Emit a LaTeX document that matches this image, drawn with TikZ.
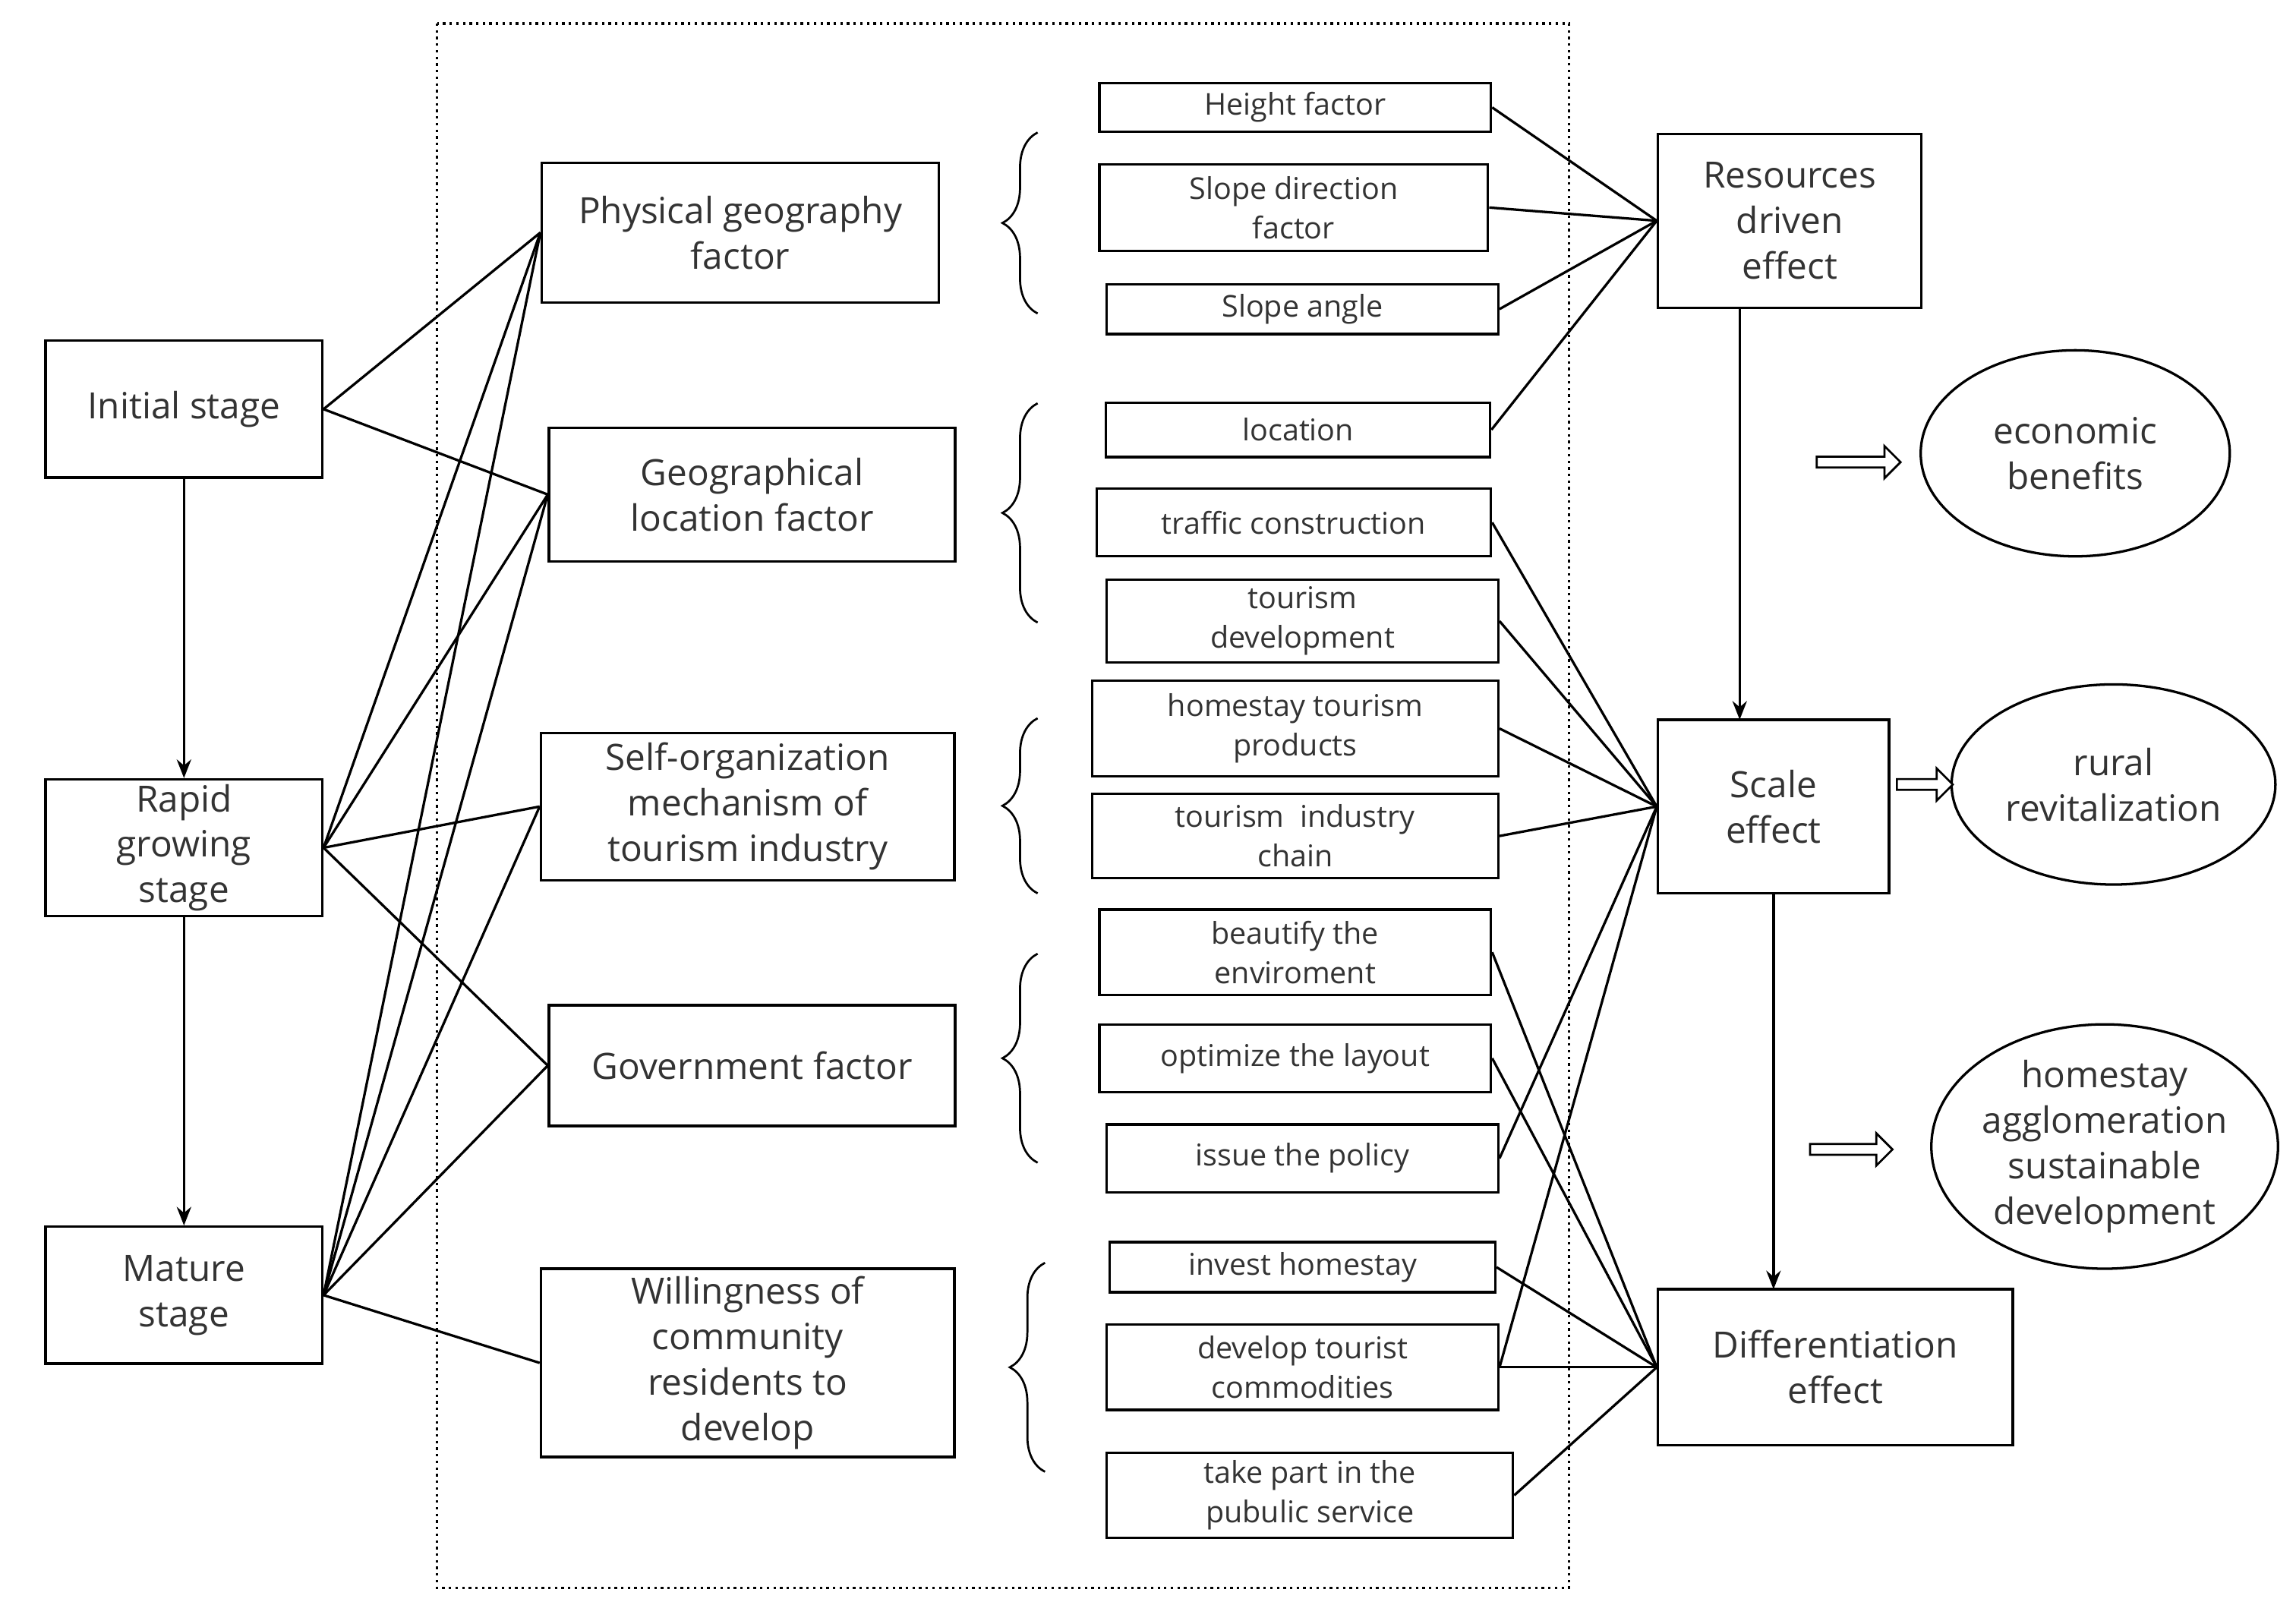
\documentclass[tikz,border=0pt]{standalone}
\usepackage{fontspec}
\setmainfont{Open Sans}
\usetikzlibrary{decorations.pathreplacing,shapes.geometric,arrows.meta}
\begin{document}
\begin{tikzpicture}[x=0.025cm,y=-0.025cm,
 big/.style={draw,line width=1.2pt,align=center,inner sep=0pt,font=\fontsize{17.5}{22}\selectfont,text=black!80},
 sm/.style={draw,line width=1.2pt,align=center,inner sep=0pt,font=\fontsize{14.5}{19}\selectfont,text=black!80},
 ell/.style={draw,ellipse,line width=1.2pt,align=center,inner sep=0pt,font=\fontsize{17.5}{22}\selectfont,text=black!80},
 ln/.style={line width=1.2pt},
 arr/.style={line width=1.2pt,-{Stealth[length=9pt,width=7pt]}},
 br/.style={line width=1pt,decorate,decoration={brace,amplitude=17pt}},
 hol/.style={draw,line width=1pt,single arrow,fill=white,minimum height=1.4cm,single arrow head extend=3pt,minimum width=0.55cm,inner sep=1pt}]
\useasboundingbox (0,0) rectangle (1560,1088);
\usetikzlibrary{shapes.arrows}
\draw[line width=1.2pt,dotted] (297,16) rectangle (1066,1079);
\node[big,minimum width=188*0.025cm,minimum height=93*0.025cm] (ini) at (125,278) {Initial stage};
\node[big,minimum width=188*0.025cm,minimum height=93*0.025cm] (rap) at (125,576) {Rapid\\growing\\stage};
\node[big,minimum width=188*0.025cm,minimum height=93*0.025cm] (mat) at (125,880) {Mature\\stage};
\node[big,minimum width=270*0.025cm,minimum height=95*0.025cm] (phy) at (503,158) {Physical geography\\factor};
\node[big,minimum width=276*0.025cm,minimum height=91*0.025cm] (geo) at (511,336) {Geographical\\location factor};
\node[big,minimum width=281*0.025cm,minimum height=100*0.025cm] (sel) at (508,548) {Self-organization\\mechanism of\\tourism industry};
\node[big,minimum width=276*0.025cm,minimum height=82*0.025cm] (gov) at (511,724) {Government factor};
\node[big,minimum width=281*0.025cm,minimum height=128*0.025cm] (wil) at (508,926) {Willingness of\\community\\residents to\\develop};
\node[sm,minimum width=266*0.025cm,minimum height=33*0.025cm] (h1) at (880,73) {Height factor};
\node[sm,minimum width=264*0.025cm,minimum height=59*0.025cm] (h2) at (879,141) {Slope direction\\factor};
\node[sm,minimum width=266*0.025cm,minimum height=34*0.025cm] (h3) at (885,210) {Slope angle};
\node[sm,minimum width=261*0.025cm,minimum height=37*0.025cm] (g1) at (882,292) {location};
\node[sm,minimum width=268*0.025cm,minimum height=46*0.025cm] (g2) at (879,355) {traffic construction};
\node[sm,minimum width=266*0.025cm,minimum height=56*0.025cm] (g3) at (885,422) {tourism\\development};
\node[sm,minimum width=276*0.025cm,minimum height=65*0.025cm] (s1) at (880,495) {homestay tourism\\products};
\node[sm,minimum width=276*0.025cm,minimum height=57*0.025cm] (s2) at (880,568) {tourism\ \ industry\\chain};
\node[sm,minimum width=266*0.025cm,minimum height=58*0.025cm] (v1) at (880,647) {beautify the\\enviroment};
\node[sm,minimum width=266*0.025cm,minimum height=46*0.025cm] (v2) at (880,719) {optimize the layout};
\node[sm,minimum width=266*0.025cm,minimum height=46*0.025cm] (v3) at (885,787) {issue the policy};
\node[sm,minimum width=262*0.025cm,minimum height=34*0.025cm] (w1) at (885,861) {invest homestay};
\node[sm,minimum width=266*0.025cm,minimum height=58*0.025cm] (w2) at (885,929) {develop tourist\\commodities};
\node[sm,minimum width=276*0.025cm,minimum height=58*0.025cm] (w3) at (890,1016) {take part in the\\pubulic service};
\node[big,minimum width=179*0.025cm,minimum height=118*0.025cm] (res) at (1216,150) {Resources\\driven\\effect};
\node[big,minimum width=157*0.025cm,minimum height=118*0.025cm] (sca) at (1205,548) {Scale\\effect};
\node[big,minimum width=241*0.025cm,minimum height=106*0.025cm] (dif) at (1247,929) {Differentiation\\effect};
\node[ell,minimum width=210*0.025cm,minimum height=140*0.025cm] (e1) at (1410,308) {economic\\benefits};
\node[ell,minimum width=220*0.025cm,minimum height=136*0.025cm] (e2) at (1436,533) {rural\\revitalization};
\node[ell,minimum width=230*0.025cm,minimum height=144*0.025cm] (e3) at (1430,779) {homestay\\agglomeration\\sustainable\\development};
\node[hol,minimum height=57*0.025cm] (a1) at (1261,314) {};
\node[hol,minimum height=38*0.025cm] (a2) at (1306,533) {};
\node[hol,minimum height=56*0.025cm] (a3) at (1256,781) {};
\draw[br] (705,213) -- (705,90);
\draw[br] (705,423) -- (705,274);
\draw[br] (705,607) -- (705,488);
\draw[br] (705,790) -- (705,648);
\draw[br] (710,1000) -- (710,858);
\draw[arr] (ini) -- (rap);
\draw[arr] (rap) -- (mat);
\draw[arr] (1182,209) -- (1182,489);
\draw[arr] (1205,607) -- (1205,876);
\foreach \a/\b in {ini/phy,ini/geo,rap/phy,rap/geo,rap/sel,rap/gov,mat/phy,mat/geo,mat/sel,mat/gov,mat/wil}
  \draw[ln] (\a.east) -- (\b.west);
\foreach \a in {h1,h2,h3,g1} \draw[ln] (\a.east) -- (res.west);
\foreach \a in {g2,g3,s1,s2,v3,w2} \draw[ln] (\a.east) -- (sca.west);
\foreach \a in {v1,v2,w1,w2,w3} \draw[ln] (\a.east) -- (dif.west);
\end{tikzpicture}
\end{document}
